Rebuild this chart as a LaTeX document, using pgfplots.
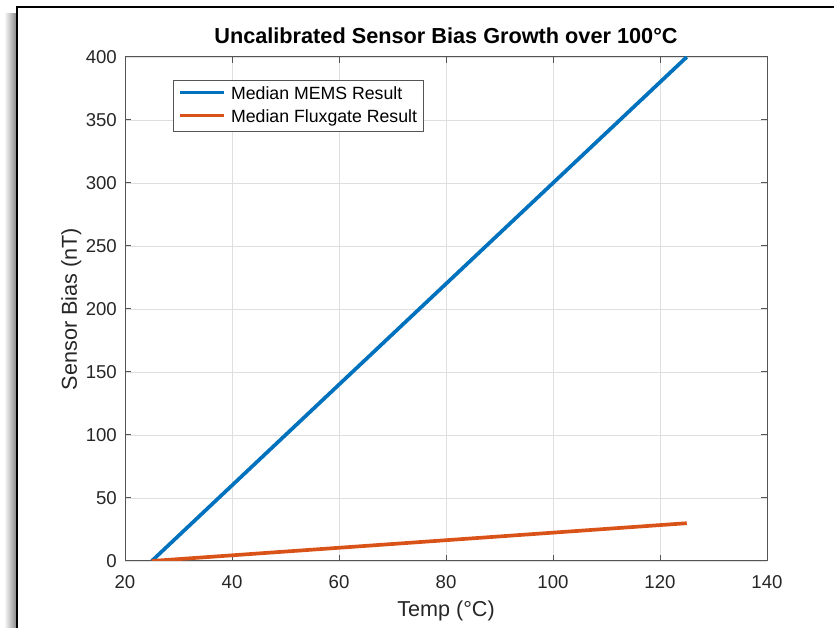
\documentclass[border=0pt]{standalone}
\usepackage{pgfplots}
\pgfplotsset{compat=1.18}
\usepackage{fontspec}
\setmainfont{Liberation Sans}
\definecolor{mblue}{rgb}{0,0.447,0.741}
\definecolor{morange}{rgb}{0.85,0.325,0.098}
\definecolor{axgray}{HTML}{555555}
\definecolor{gridgray}{HTML}{DFDFDF}
\begin{document}
\begin{tikzpicture}
\useasboundingbox (0,0) rectangle (834pt,628pt);
\shade[left color=white, right color=black!45] (4pt,0pt) rectangle (16pt,614pt);
\draw[black, line width=2.2pt] (17pt,0pt) -- (17pt,621pt) -- (834pt,621pt);
\begin{axis}[
  at={(125pt,67pt)}, anchor=south west,
  scale only axis, width=642pt, height=504pt,
  xmin=20, xmax=140, ymin=0, ymax=400,
  xtick={20,40,...,140}, ytick={0,50,...,400},
  grid=major, major grid style={gridgray, line width=0.8pt},
  axis line style={axgray, line width=1pt},
  tick align=inside, major tick length=6pt, tick style={axgray, line width=1pt},
  /pgf/number format/assume math mode=true,
  tick label style={font=\fontsize{18.6}{22}\selectfont, text=black!85},
  xticklabel style={anchor=base, yshift=-28pt, inner sep=0pt},
  yticklabel style={anchor=east, xshift=-8pt, inner sep=0pt},
  title={Uncalibrated Sensor Bias Growth over 100°C},
  title style={font=\bfseries\fontsize{21.7}{26}\selectfont, at={(axis description cs:0.5,1.0139)}, anchor=base, inner sep=0pt},
  xlabel={Temp (°C)},
  xlabel style={font=\fontsize{21.6}{26}\selectfont, text=black!85, at={(axis description cs:0.5,-0.111)}, anchor=base, inner sep=0pt},
  ylabel={Sensor Bias (nT)},
  ylabel style={font=\fontsize{21.6}{26}\selectfont, text=black!85, at={(axis description cs:-0.0748,0.5)}, anchor=base, inner sep=0pt},
  legend style={at={(0.0748,0.954)}, anchor=north west, draw=axgray, line width=0.8pt, fill=white,
    font=\fontsize{17.7}{21}\selectfont, inner xsep=5pt, inner ysep=4.5pt, row sep=4pt, column sep=4pt,
    nodes={inner sep=1pt, text height=13pt, text depth=4pt}},
  legend cell align=left,
  legend image code/.code={\draw[#1] (0pt,2pt) -- (44pt,2pt);},
]
\addplot[mblue, line width=3.7pt] coordinates {(25,0) (50,100) (75,200) (100,300) (125,400)};
\addlegendentry{Median MEMS Result}
\addplot[morange, line width=3.7pt] coordinates {(25,0) (50,7.5) (75,15) (100,22.5) (125,30)};
\addlegendentry{Median Fluxgate Result}
\end{axis}
\end{tikzpicture}
\end{document}
